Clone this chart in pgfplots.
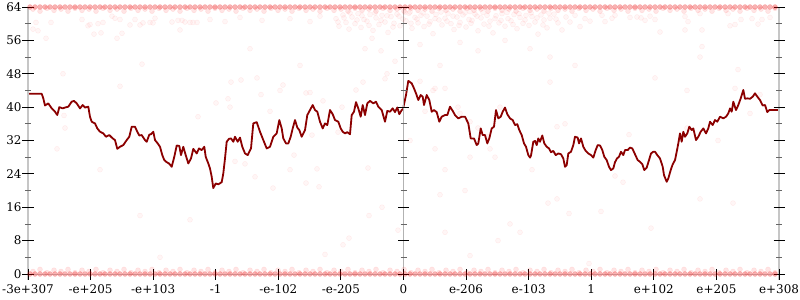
\documentclass[border=0pt]{standalone}
\usepackage{fontspec}
\setmainfont{DejaVu Serif}
\usepackage{pgfplots}
\usepackage{pgfplotstable}
\pgfplotsset{compat=1.18}
\definecolor{linered}{HTML}{8B0000}
\pgfplotstableread{
x top bot
30 64 0
35 64 0
40 64 0
45 64 0
50 64 0
55 64 0
60 64 0
65 64 0
70 64 0
75 64 0
80 64 0
85 64 0
90 64 0
95 64 0
100 64 0
105 64 0
110 64 0
115 64 0
120 64 0
125 64 0
130 64 0
135 64 0
140 64 0
145 64 0
150 64 0
155 64 0
160 64 0
165 64 0
170 64 0
175 64 0
180 64 0
185 64 0
190 64 0
195 64 0
200 64 0
205 64 0
210 64 0
215 64 0
220 64 0
225 64 0
230 64 0
235 64 0
240 64 0
245 64 0
250 64 0
255 64 0
260 64 0
265 64 0
270 64 0
275 64 0
280 64 0
285 64 0
290 64 0
295 64 0
300 64 0
305 64 0
310 64 0
315 64 0
320 64 0
325 64 0
330 64 0
335 64 0
340 64 0
345 64 0
350 64 0
355 64 0
360 64 0
365 64 0
370 64 0
375 64 0
380 64 0
385 64 0
390 64 0
395 64 0
400 64 0
405 64 0
410 64 0
415 64 0
420 64 0
425 64 0
430 64 0
435 64 0
440 64 0
445 64 0
450 64 0
455 64 0
460 64 0
465 64 0
470 64 0
475 64 0
480 64 0
485 64 0
490 64 0
495 64 0
500 64 0
505 64 0
510 64 0
515 64 0
520 64 0
525 64 0
530 64 0
535 64 0
540 64 0
545 64 0
550 64 0
555 64 0
560 64 0
565 64 0
570 64 0
575 64 0
580 64 0
585 64 0
590 64 0
595 64 0
600 64 0
605 64 0
610 64 0
615 64 0
620 64 0
625 64 0
630 64 0
635 64 0
640 64 0
645 64 0
650 64 0
655 64 0
660 64 0
665 64 0
670 64 0
675 64 0
680 64 0
685 64 0
690 64 0
695 64 0
700 64 0
705 64 0
710 64 0
715 64 0
720 64 0
725 64 0
730 64 0
735 64 0
740 64 0
745 64 0
750 64 0
755 64 0
760 64 0
765 64 0
770 64 0
775 64 0
}\bandA
\pgfplotstableread{
x top bot
33 63.5 0.6
40 63.0 1.1
47 63.7 0.3
54 63.2 0.9
61 63.5 0.6
68 63.0 1.1
75 63.7 0.3
82 63.2 0.9
89 63.5 0.6
96 63.0 1.1
103 63.7 0.3
110 63.2 0.9
117 63.5 0.6
124 63.0 1.1
131 63.7 0.3
138 63.2 0.9
145 63.5 0.6
152 63.0 1.1
159 63.7 0.3
166 63.2 0.9
173 63.5 0.6
180 63.0 1.1
187 63.7 0.3
194 63.2 0.9
201 63.5 0.6
208 63.0 1.1
215 63.7 0.3
222 63.2 0.9
229 63.5 0.6
236 63.0 1.1
243 63.7 0.3
250 63.2 0.9
257 63.5 0.6
264 63.0 1.1
271 63.7 0.3
278 63.2 0.9
285 63.5 0.6
292 63.0 1.1
299 63.7 0.3
306 63.2 0.9
313 63.5 0.6
320 63.0 1.1
327 63.7 0.3
334 63.2 0.9
341 63.5 0.6
348 63.0 1.1
355 63.7 0.3
362 63.2 0.9
369 63.5 0.6
376 63.0 1.1
383 63.7 0.3
390 63.2 0.9
397 63.5 0.6
404 63.0 1.1
411 63.7 0.3
418 63.2 0.9
425 63.5 0.6
432 63.0 1.1
439 63.7 0.3
446 63.2 0.9
453 63.5 0.6
460 63.0 1.1
467 63.7 0.3
474 63.2 0.9
481 63.5 0.6
488 63.0 1.1
495 63.7 0.3
502 63.2 0.9
509 63.5 0.6
516 63.0 1.1
523 63.7 0.3
530 63.2 0.9
537 63.5 0.6
544 63.0 1.1
551 63.7 0.3
558 63.2 0.9
565 63.5 0.6
572 63.0 1.1
579 63.7 0.3
586 63.2 0.9
593 63.5 0.6
600 63.0 1.1
607 63.7 0.3
614 63.2 0.9
621 63.5 0.6
628 63.0 1.1
635 63.7 0.3
642 63.2 0.9
649 63.5 0.6
656 63.0 1.1
663 63.7 0.3
670 63.2 0.9
677 63.5 0.6
684 63.0 1.1
691 63.7 0.3
698 63.2 0.9
705 63.5 0.6
712 63.0 1.1
719 63.7 0.3
726 63.2 0.9
733 63.5 0.6
740 63.0 1.1
747 63.7 0.3
754 63.2 0.9
761 63.5 0.6
768 63.0 1.1
775 63.7 0.3
}\bandB
\pgfplotsset{
  faint/.style={only marks, mark=*, mark size=2.5bp,
    mark options={draw=red, fill=red, fill opacity=0.035, draw opacity=0.06, line width=0.5bp}},
  halo/.style={only marks, mark=*, mark size=2.5bp,
    mark options={draw=red, fill=red, fill opacity=0.1, draw opacity=0.08, line width=0.5bp}},
  band/.style={only marks, mark=*, mark size=2.6bp,
    mark options={draw=red, fill=red!90!black, fill opacity=0.3, draw opacity=0.12, line width=0.4bp}},
}
\begin{document}
\begin{tikzpicture}
\path[use as bounding box] (-28bp,-26bp) rectangle (772bp,274bp);
\begin{axis}[
  at={(0,0)}, anchor=south west,
  scale only axis, width=751bp, height=267bp,
  xmin=28, xmax=779, ymin=0, ymax=64,
  axis x line=bottom, axis y line=left,
  axis line style={-, draw=none},
  clip=false,
  xtick={28,90.58,153.17,215.75,278.33,340.92,403.5,466.08,528.67,591.25,653.83,716.42,779},
  xticklabels={-3e+307,-e+205,-e+103,-1,-e-102,-e-205,0,e-206,e-103,1,e+102,e+205,e+308},
  ytick={0,8,...,64},
  major tick length=0pt, minor tick length=0pt,
  tick style={draw=none},
  xticklabel style={yshift=-7bp},
  yticklabel style={xshift=-3bp},
  /pgf/number format/assume math mode=true,
  tick label style={font=\fontsize{12}{14}\selectfont},
]
% dense bands of points at the limits
\addplot[halo] table[x=x, y=top] {\bandB};
\addplot[halo] table[x=x, y=bot] {\bandB};
\addplot[band] table[x=x, y=top] {\bandA};
\addplot[band] table[x=x, y=bot] {\bandA};
% cloud of points near the top
\addplot[faint] coordinates {
(336,61.2)(339,59.4)(343,62.1)(346,60.3)(349,58.7)(352,61.6)(355,60.0)(358,62.4)(361,59.1)(364,61.0)
(367,60.6)(370,62.2)(373,58.4)(376,61.4)(379,59.8)(382,62.0)(385,60.4)(388,57.9)(391,61.7)(394,60.1)
(397,62.3)(400,59.5)(403,61.1)(406,60.7)(409,62.5)(412,58.9)(415,61.5)(418,60.2)(421,62.0)(424,59.3)
(427,61.8)(430,60.5)(433,57.6)(436,62.2)(439,60.9)(442,59.7)(445,61.3)(448,62.4)(451,60.0)(454,58.6)
(457,61.6)(460,60.3)(463,62.1)(466,59.2)(469,61.0)(472,60.8)(475,62.3)(478,58.3)(481,61.4)(484,59.9)
(487,62.0)(490,60.6)(493,57.8)(496,61.9)(499,60.2)(502,62.4)(505,59.4)(508,61.2)(511,60.7)(514,62.2)
(517,58.8)(520,61.5)(523,60.1)(526,62.0)(529,59.6)(532,61.7)(535,60.4)(538,57.5)(541,62.1)(544,60.9)
(547,59.0)(550,61.3)(554,62.3)(558,60.2)(562,58.5)(566,61.6)(570,60.4)(575,62.0)(580,59.3)(585,61.2)(590,60.6)
(338,60.4)(344,61.4)(350,62.6)(357,60.9)(362,61.9)(369,59.6)(375,62.6)(381,60.8)(387,61.9)(393,59.2)
(399,61.8)(405,62.7)(411,60.1)(417,61.1)(423,62.6)(429,59.9)(435,61.2)(441,62.8)(447,60.6)(453,61.8)
(459,59.6)(465,62.6)(471,60.1)(477,61.8)(483,62.7)(489,59.4)(495,61.2)(501,60.8)(507,62.7)(513,59.8)
(519,62.4)(525,60.9)(531,62.6)(537,61.4)(543,59.7)(549,62.5)(556,61.1)
(365,54)(372,56.5)(381,53.5)(395,51)(420,55)(440,50)(460,55.5)(478,53.5)(505,56)(530,54)(550,52)
(363,46)(387,48)(435,44.5)(410,62.8)(470,62.9)
(33,58.7)(36,60.3)(38,58.3)(46,56.5)(51,60.3)(63,48)(82,61)(88,59.5)(90,59.8)(94,57.5)(98,60)
(101,57.8)(103,60.3)(112,61.8)(115,61.3)(117,56.5)(120,61)(122,57.7)(130,59.7)(135,61)(140,59.7)
(142,50.3)(143,60.2)(150,60.3)(153,60.2)(155,61.3)(172,60.4)(178,60.8)(180,58.5)(182,60.8)(185,60.4)
(190,60.3)(193,60.3)(197,60.3)(210,61)(225,60.5)(240,61.5)(262,60.8)(290,61.2)(310,60.5)(320,61.8)
(602,62)(605,60.5)(612,61.3)(615,62)(630,61.5)(637,61.6)(641,61.4)(645,60.8)(650,61.8)(655,61)(660,58)
(685,61.7)(688,60.5)(700,62.4)(702,58.5)(730,59.5)(735,59.8)(741,61)(752,61.2)(758,59.9)(762,61)(770,61.5)
(700,52)(738,49)(687,44)(735,44.5)(760,43)(750,38.5)(687,35)(728,62.4)(685,58.5)(702,54.5)
};
% sparse points in the middle of the plot
\addplot[faint] coordinates {
(64,38)(65,35)(57,30)(216,41)(231,46)(241,46.5)(257,47)(261,43)(228,42)(230,40)(270,39)(198,37.7)
(235,27)(245,26.4)(255,23.3)(283,45.3)(306,43.4)(310,43.5)(323,41.5)(356,44.1)(385,46.8)(312,33.3)
(294,28.5)(317,25.2)(368,25.4)(273,20.6)(306,21.8)(319,20.9)(338,34)(342,40)
(420,46.2)(433,44)(445,44.5)(458,40)(460,38.5)(410,32)(435,30)(445,25)(465,20)(470,28)(440,19)(478,35)
(495,28)(510,12)(500,40)(425,39)(470,36.5)(487,33)(490,30)
(550,46)(557,35.3)(557,18)(569,14.5)(629,33.4)(623,22)(615,23.5)(651,11)(733,17)(343,7)(369,14)(398,10.5)
(325,4.7)(349,8.6)(382,16)(445,10)(470,4.4)(498,8)(520,10)(532,25)(548,17)(565,36)(575,50)(589,2.5)
(601,15)(655,47)(718,32)(700,18)(160,4)(100,25)(120,45)(250,54)(280,44)(300,50)(290,25)(140,14)(190,13)
};
% main trace, left half
\addplot[linered, line width=1.8bp, line join=round] coordinates {
(28,43.2)(41.7,43.2)(43.3,42.1)(45,40.4)(48.3,40.9)(51.7,39.7)(55,38.9)(57.3,38.1)(59.3,40.0)(62.7,39.7)
(65,39.9)(68.3,40.1)(71.7,41.3)(74,41.5)(76.7,40.9)(80,39.7)(82.7,40.5)(85,39.9)(88.3,40.1)(90,37.7)
(91.7,36.5)(95,36.1)(97.3,34.9)(100,34.1)(103.3,33.7)(106,32.9)(109.3,33.3)(112.7,32.5)(115,32.1)(117.3,30.0)
(120,30.5)(123.3,30.9)(126.7,32.1)(129.3,32.9)(131.7,35.3)(135,35.3)(137.3,34.1)(139.3,33.2)(141.7,33.3)(145,32.1)
(146.7,31.7)(149.3,33.4)(151,33.5)(153.3,34.1)(155,32.1)(157.7,31.3)(160,30.5)(162.3,28.5)(164.3,27.3)(166.7,26.8)
(169,26.5)(171.7,25.7)(174.3,28.1)(176.7,30.8)(179.3,30.7)(181,28.5)(183.3,30.5)(185.7,28.5)(188.3,26.5)(191,27.7)
(193.3,30.0)(196.7,28.9)(199,30.1)(201.7,29.7)(204.3,30.5)(205.7,28.1)(208.3,26.5)(210,25.3)(211.7,23.3)(213.3,20.6)
(215.7,21.7)(218.3,21.5)(221.7,22.0)(223.3,24.1)(225,27.7)(226.7,31.7)(229,32.4)(231,32.5)(233.3,31.7)(235,32.9)
(237.7,31.7)(240,32.7)(242.3,30.5)(245,28.9)(247.7,28.5)(251,30.1)(253.3,36.1)(256.7,36.4)(260,34.1)(263.3,32.1)
(266.7,30.1)(270,30.5)(273.3,32.9)(276.7,33.7)(279.3,36.9)(281.7,34.9)(283.3,32.5)(286,31.3)(288.3,31.3)(290.7,32.9)
(292.7,34.9)(295,36.9)(297.3,35.1)(299.3,34.5)(301.7,32.9)(305,34.5)(307.3,38.1)(310,39.3)(312.7,40.5)(315,39.3)
(317.3,38.9)(320,36.5)(322.7,34.9)(325,36.1)(327.3,35.7)(330,39.3)(332.7,38.3)(335,36.9)(338.3,36.5)(340.7,34.9)
(342.7,34.1)(345,33.7)(347.3,34.0)(350,33.5)(351.7,38.1)(354,38.9)(356,41.2)(358.3,39.7)(360.7,37.7)(362.7,40.5)
(365,38.1)(367.3,40.9)(370,41.5)(373.3,40.9)(376,41.3)(378.3,40.1)(381.7,39.3)(385,36.5)(387.3,39.1)(390,38.9)
(392.7,39.7)(395,38.8)(397.3,39.9)(399.3,38.3)(401.7,39.3)(403.5,39.6)
};
% main trace, right half
\addplot[linered, line width=1.8bp, line join=round] coordinates {
(403.5,40.1)(406,42.9)(408.3,46.3)(411.7,45.7)(414,44.5)(416,43.3)(418.3,41.7)(420.7,42.9)(422.7,42.5)(424,40.5)
(426.7,42.9)(429.3,41.7)(431.7,38.9)(434,39.3)(436.7,38.8)(439.3,36.5)(441.7,37.7)(445,38.1)(447.3,38.1)(450,40.1)
(452.7,39.1)(455,38.1)(458.3,37.3)(461.7,37.7)(465,37.7)(468.3,36.1)(470.7,32.5)(474,32.5)(476.7,30.9)(478.3,31.3)
(480.7,34.9)(482.7,33.3)(485,33.3)(487.3,31.3)(489.3,32.5)(491.7,34.9)(494,35.3)(496,39.3)(498.3,37.3)(500.7,37.7)
(502.7,38.9)(505,39.9)(507.3,38.3)(510,37.3)(512.7,36.9)(515,35.7)(517.3,35.9)(519.3,34.5)(521.7,33.3)(524,31.3)
(526,30.5)(528.3,28.5)(530,27.9)(531,28.4)(533.3,31.7)(535,31.9)(536.7,30.9)(538.3,32.5)(540,31.7)(542.3,33.2)
(544.3,31.3)(546.7,30.5)(549,30.1)(551,29.2)(553.3,29.5)(555.7,28.5)(558.3,28.9)(561,28.7)(563.3,27.7)(565,25.7)
(566.7,26.1)(568.3,28.9)(571,29.3)(573.3,30.9)(575,32.9)(577.7,32.7)(579,31.3)(581,32.5)(583.3,30.5)(585.7,29.5)
(588.3,28.9)(591,28.5)(593.3,27.9)(595.7,29.7)(597.7,30.9)(600,30.8)(602.3,29.7)(604.3,28.1)(606.7,27.3)(609,25.7)
(611,24.9)(613.3,25.3)(615,26.8)(617,27.7)(619,28.1)(621,29.3)(623.3,28.5)(625,29.7)(627.7,29.7)(630,30.3)
(632.3,30.1)(635,28.7)(637.7,27.3)(640,26.9)(642.3,26.3)(644.3,24.9)(646.7,25.5)(649,27.3)(651,28.9)(653.3,29.3)
(655,29.3)(657.3,28.5)(660,27.7)(662.7,25.7)(664,23.7)(666.7,22.1)(668.3,22.9)(670.7,24.9)(672.7,26.3)(675,27.3)
(676.7,29.3)(678.3,31.3)(680,33.7)(681.7,31.7)(683.3,34.1)(685,32.9)(687.3,33.7)(689.3,35.3)(691.7,34.5)(693.3,34.9)
(696,32.1)(698.3,32.9)(700.7,34.1)(703.3,34.9)(706,33.7)(708.3,34.9)(710,36.5)(712.7,35.7)(715,36.9)(717.3,36.5)
(720,37.7)(723.3,37.3)(726,37.7)(728.3,38.5)(730,39.7)(731.7,38.9)(733.3,41.3)(736,39.3)(738.3,40.5)(740.7,42.1)
(743.3,44.1)(745,42.0)(747.3,42.1)(750,42.0)(752.7,42.5)(755,43.3)(757.3,42.5)(760,41.7)(762.7,40.4)(765,40.5)
(767.3,38.8)(769.3,39.3)(773.3,39.3)(779,39.3)
};
% axis lines and ticks
\draw[gray!45, line width=2.5bp] (axis cs:28,-1.4) -- (axis cs:28,64);
\draw[gray!60, line width=1.5bp] (axis cs:403.5,-1.4) -- (axis cs:403.5,64);
\draw[gray!45, line width=2.5bp] (axis cs:779,-1.4) -- (axis cs:779,64);
\draw[gray!40, line width=0.6bp] (axis cs:28,0) -- (axis cs:779,0);
\pgfplotsinvokeforeach{0,8,16,24,32,40,48,56,64}{
  \draw[black, line width=0.9bp] ([xshift=-5.5bp]axis cs:28,#1) -- ([xshift=5.5bp]axis cs:28,#1);
  \draw[black, line width=0.9bp] ([xshift=-5.5bp]axis cs:403.5,#1) -- ([xshift=5.5bp]axis cs:403.5,#1);
  \draw[black, line width=0.9bp] ([xshift=-5.5bp]axis cs:779,#1) -- ([xshift=5.5bp]axis cs:779,#1);
}
\pgfplotsinvokeforeach{4,12,20,28,36,44,52,60}{
  \draw[black!60, line width=0.8bp] ([xshift=-3bp]axis cs:28,#1) -- ([xshift=3bp]axis cs:28,#1);
  \draw[black!60, line width=0.8bp] ([xshift=-3bp]axis cs:403.5,#1) -- ([xshift=3bp]axis cs:403.5,#1);
  \draw[black!60, line width=0.8bp] ([xshift=-3bp]axis cs:779,#1) -- ([xshift=3bp]axis cs:779,#1);
}
\pgfplotsinvokeforeach{28,90.58,153.17,215.75,278.33,340.92,403.5,466.08,528.67,591.25,653.83,716.42,779}{
  \draw[black, line width=0.9bp] ([yshift=-5.5bp]axis cs:#1,0) -- ([yshift=4.5bp]axis cs:#1,0);
}
\end{axis}
\end{tikzpicture}
\end{document}
